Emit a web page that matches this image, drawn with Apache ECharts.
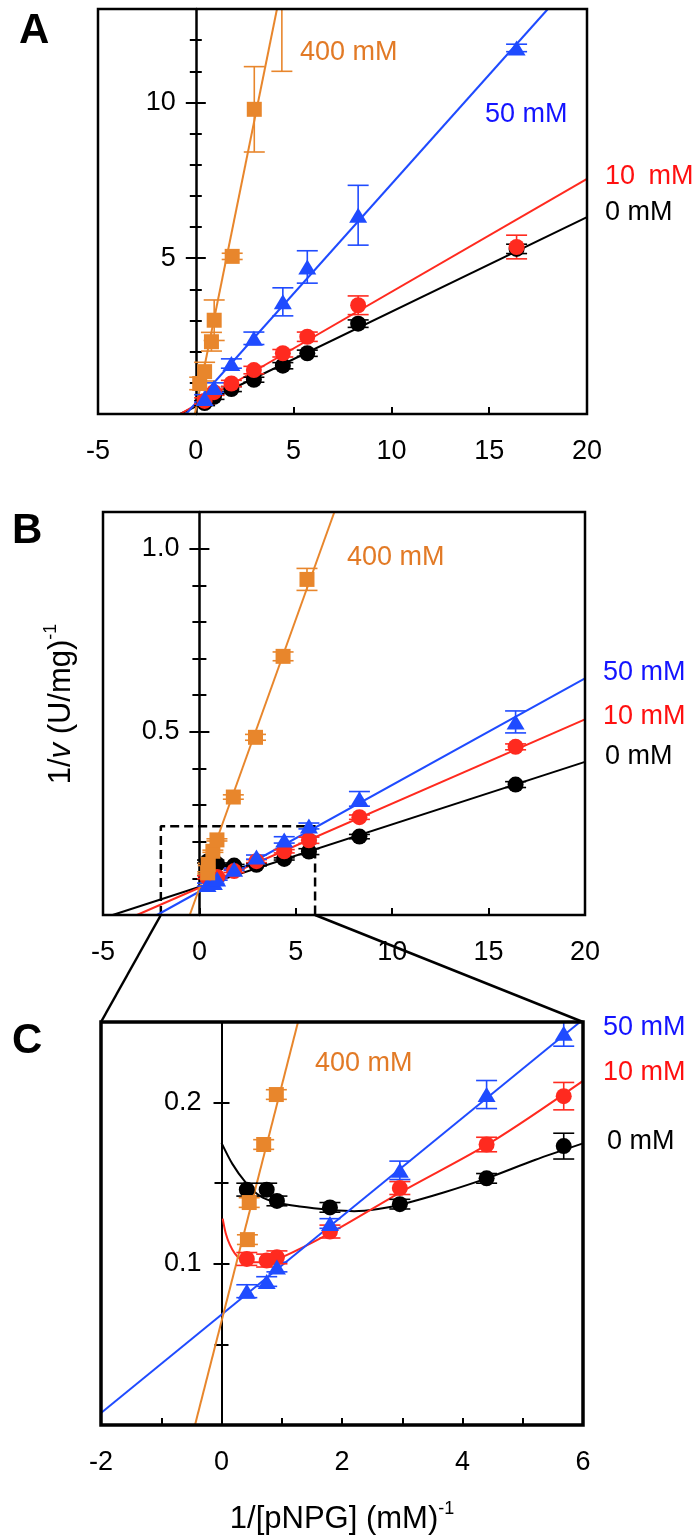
<!DOCTYPE html>
<html><head><meta charset="utf-8">
<script src="https://cdn.jsdelivr.net/npm/echarts@6/dist/echarts.min.js"></script>
<style>html,body{margin:0;padding:0;background:#fff}#c{width:693px;height:1538px}</style>
</head><body><div id="c"></div><script>
const FONT = '"Liberation Sans", Arial, Helvetica, sans-serif';
const COL = {black:'#000000', red:'#ff2a1f', blue:'#1f4bff', orange:'#e8862c'};
const TXT = {black:'#000000', red:'#ff1010', blue:'#1414ff', orange:'#e27a26'};

// ---------- Panel A ----------
const xA = [0.45, 0.93, 1.82, 2.97, 4.45, 5.7, 8.3, 16.4];
const blackA = [0.35, 0.55, 0.8, 1.1, 1.55, 1.95, 2.9, 5.3];
const blackAErr = [0.08, 0.08, 0.08, 0.08, 0.1, 0.1, 0.12, 0.15];
const redA = [0.42, 0.7, 0.98, 1.41, 1.95, 2.48, 3.49, 5.36];
const redAErr = [0.1, 0.1, 0.1, 0.12, 0.12, 0.15, 0.3, 0.38];
const blueA = [0.5, 0.85, 1.62, 2.43, 3.6, 4.72, 6.38, 11.75];
const blueAErr = [0.12, 0.15, 0.15, 0.2, 0.45, 0.52, 0.96, 0.12];
const orangeXA = [0.2, 0.45, 0.8, 0.94, 1.86, 2.99, 4.4];
const orangeA = [0.98, 1.36, 2.32, 3.01, 5.06, 9.78, 14.5];
const orangeAErr = [0.2, 0.3, 0.3, 0.65, 0.1, 1.37, 3.5];
const blackFitA = [[-0.8, 0], [20, 6.32]];
const redFitA = [[-0.8, 0], [20, 7.55]];
const blueFitA = [[-0.5, 0], [18.0, 13.0]];
const orangeFitA = [[-0.05, 0], [4.15, 13.0]];

// ---------- Panels B and C (same measurements) ----------
const xBC = [0.42, 0.75, 0.92, 1.8, 2.96, 4.4, 5.68, 8.3, 16.4];
const blackBC = [0.146, 0.146, 0.139, 0.135, 0.137, 0.153, 0.173, 0.214, 0.356];
const blackBCErr = [0.004, 0.004, 0.003, 0.003, 0.003, 0.003, 0.008, 0.006, 0.008];
const redBC = [0.103, 0.102, 0.104, 0.120, 0.147, 0.174, 0.204, 0.267, 0.459];
const redBCErr = [0.004, 0.004, 0.004, 0.004, 0.004, 0.0045, 0.0085, 0.006, 0.008];
const blueBC = [0.083, 0.089, 0.098, 0.125, 0.158, 0.205, 0.243, 0.317, 0.527];
const blueBCErr = [0.004, 0.003, 0.003, 0.003, 0.0057, 0.0087, 0.008, 0.02, 0.03];
const orangeXBC = [0.43, 0.46, 0.70, 0.91, 1.76, 2.91, 4.34, 5.58];
const orangeBC = [0.115, 0.138, 0.174, 0.205, 0.322, 0.485, 0.706, 0.916];
const orangeBCErr = [0.003, 0.003, 0.003, 0.003, 0.006, 0.008, 0.012, 0.03];
const blackFitB = [[-4.5, 0], [20, 0.418]];
const redFitB = [[-3.24, 0], [20, 0.534]];
const blueFitB = [[-2.2, 0], [20, 0.646]];
const orangeFitB = [[-0.5, 0], [7.0, 1.1]];
const zoomBox = [[-2, 0], [-2, 0.242], [6, 0.242], [6, 0]];
const blueFitC = [[-2, 0.0075], [5.95, 0.25]];
const orangeFitC = [[-0.44, 0], [1.27, 0.25]];
const redCurveX = [0.02, 0.07, 0.14, 0.22, 0.31, 0.45, 0.7, 1.0, 1.8, 3.0, 4.5, 6.0];
const redCurveY = [0.128, 0.119, 0.1117, 0.1065, 0.103, 0.101, 0.101, 0.104, 0.119, 0.145, 0.176, 0.2135];
const blackCurveX = [0.0, 0.18, 0.4, 0.63, 0.91, 1.3, 1.8, 2.2, 2.6, 3.0, 3.7, 4.4, 5.2, 6.0];
const blackCurveY = [0.175, 0.162, 0.1505, 0.1423, 0.138, 0.1355, 0.1335, 0.1326, 0.134, 0.137, 0.1444, 0.153, 0.1644, 0.1747];

// ---------- tick labels ----------
const xTicksAB = [-5, 0, 5, 10, 15, 20];
const xTicksC = [-2, 0, 2, 4, 6];
const yLabelsA = [5, 10];
const yLabelsB = [0.5, 1.0];
const yLabelsC = [0.1, 0.2];

const zip = (xs, ys) => xs.map((x, i) => [x, ys[i]]);
const zip3 = (xs, ys, es) => xs.map((x, i) => [x, ys[i], es[i]]);
const near = (v, arr) => arr.some(a => Math.abs(a - v) < 1e-9);

const grids = [
  {left: 98, top: 9, width: 489, height: 405},
  {left: 103, top: 512, width: 482, height: 403},
  {left: 101, top: 1022, width: 482, height: 403}
];
const gridBorder = [2.5, 2.5, 3.5];
const yLineW = [2.5, 2.5, 2];
const LABEL_SIZE = 27;

const xAxis = [], yAxis = [];
function addXAxis(gi, min, max, interval, labels, tickLen) {
  xAxis.push({type: 'value', gridIndex: gi, min, max, interval, position: 'bottom',
    axisLine: {show: false, onZero: false},
    axisTick: {show: true, inside: true, length: tickLen, lineStyle: {color: '#000', width: 2}},
    axisLabel: {show: true, margin: 24, color: '#000', fontSize: LABEL_SIZE, fontFamily: FONT,
      showMinLabel: true, showMaxLabel: true, hideOverlap: false,
      formatter: v => near(v, labels) ? String(Math.round(v)) : ''},
    splitLine: {show: false}});
}
// y axes drawn at x = 0: shift them from the grid edge by the width share left of zero
function addYAxes(gi, xmin, xmax, min, max, major, minor, majLen, minLen, lineW, labels, fmt) {
  const w = grids[gi].width;
  const w0 = w * (0 - xmin) / (xmax - xmin);
  const tick = (len) => ({show: true, length: len, lineStyle: {color: '#000', width: 2}});
  const c = {type: 'value', gridIndex: gi, min, max, splitLine: {show: false}};
  yAxis.push(Object.assign({}, c, {interval: major, position: 'left', offset: -w0,
    axisLine: {show: true, onZero: false, lineStyle: {color: '#000', width: lineW}},
    axisTick: tick(majLen),
    axisLabel: {show: true, margin: 20, color: '#000', fontSize: LABEL_SIZE, fontFamily: FONT,
      showMinLabel: false, showMaxLabel: false, hideOverlap: false,
      formatter: v => near(v, labels) ? fmt(v) : ''}}));
  yAxis.push(Object.assign({}, c, {interval: major, position: 'right', offset: -(w - w0),
    axisLine: {show: false, onZero: false}, axisTick: tick(majLen), axisLabel: {show: false}}));
  yAxis.push(Object.assign({}, c, {interval: minor, position: 'left', offset: -w0,
    axisLine: {show: false, onZero: false}, axisTick: tick(minLen), axisLabel: {show: false}}));
  yAxis.push(Object.assign({}, c, {interval: minor, position: 'right', offset: -(w - w0),
    axisLine: {show: false, onZero: false}, axisTick: tick(minLen), axisLabel: {show: false}}));
}
addXAxis(0, -5, 20, 5, xTicksAB, 7);
addXAxis(1, -5, 20, 5, xTicksAB, 7);
addXAxis(2, -2, 6, 1, xTicksC, 7);
addYAxes(0, -5, 20, 0, 13, 5, 1, 10, 6, yLineW[0], yLabelsA, v => String(v));
addYAxes(1, -5, 20, 0, 1.1, 0.5, 0.1, 10, 7, yLineW[1], yLabelsB, v => v.toFixed(1));
addYAxes(2, -2, 6, 0, 0.25, 0.1, 0.05, 8, 7, yLineW[2], yLabelsC, v => v.toFixed(1));

function errRender(params, api) {
  const x = api.value(0), y = api.value(1), e = api.value(2);
  const cs = params.coordSys;
  const px = api.coord([x, y])[0];
  const top = api.coord([x, y + e])[1], bot = api.coord([x, y - e])[1];
  const y0 = cs.y, y1 = cs.y + cs.height;
  const color = api.visual('color');
  const st = {stroke: color, lineWidth: 1.6};
  const w = 10.5;
  const ch = [];
  const t = Math.max(top, y0), b = Math.min(bot, y1);
  if (t < b) ch.push({type: 'line', shape: {x1: px, y1: t, x2: px, y2: b}, style: st});
  if (top >= y0 && top <= y1) ch.push({type: 'line', shape: {x1: px - w, y1: top, x2: px + w, y2: top}, style: st});
  if (bot >= y0 && bot <= y1) ch.push({type: 'line', shape: {x1: px - w, y1: bot, x2: px + w, y2: bot}, style: st});
  return {type: 'group', children: ch};
}

const series = [];
function line(p, data, color, opts) {
  series.push(Object.assign({type: 'line', xAxisIndex: p, yAxisIndex: 4 * p, data,
    showSymbol: false, symbol: 'none', clip: true, silent: true, z: 2,
    lineStyle: {color, width: 2}, itemStyle: {color}}, opts || {}));
}
function points(p, xs, ys, es, color, symbol, size) {
  series.push({type: 'custom', xAxisIndex: p, yAxisIndex: 4 * p, renderItem: errRender,
    data: zip3(xs, ys, es), encode: {x: 0, y: 1}, itemStyle: {color}, z: 3, silent: true, clip: true});
  series.push({type: 'scatter', xAxisIndex: p, yAxisIndex: 4 * p, data: zip(xs, ys),
    symbol, symbolSize: size, itemStyle: {color, opacity: 1}, z: 4, clip: true, silent: true});
}
const SYM = {black: ['circle', 16], red: ['circle', 16], blue: ['triangle', [18, 15]], orange: ['rect', 15]};

// Panel A
line(0, blackFitA, COL.black); line(0, redFitA, COL.red); line(0, blueFitA, COL.blue); line(0, orangeFitA, COL.orange);
points(0, xA, blackA, blackAErr, COL.black, ...SYM.black);
points(0, xA, redA, redAErr, COL.red, ...SYM.red);
points(0, xA, blueA, blueAErr, COL.blue, ...SYM.blue);
points(0, orangeXA, orangeA, orangeAErr, COL.orange, ...SYM.orange);
// Panel B
line(1, zoomBox, '#000', {z: 1, lineStyle: {color: '#000', width: 2.5, type: [9, 5]}});
line(1, blackFitB, COL.black); line(1, redFitB, COL.red); line(1, blueFitB, COL.blue); line(1, orangeFitB, COL.orange);
points(1, xBC, blackBC, blackBCErr, COL.black, ...SYM.black);
points(1, xBC, redBC, redBCErr, COL.red, ...SYM.red);
points(1, xBC, blueBC, blueBCErr, COL.blue, ...SYM.blue);
points(1, orangeXBC, orangeBC, orangeBCErr, COL.orange, ...SYM.orange);
// Panel C
line(2, zip(blackCurveX, blackCurveY), COL.black, {smooth: 0.3});
line(2, zip(redCurveX, redCurveY), COL.red, {smooth: 0.3});
line(2, blueFitC, COL.blue); line(2, orangeFitC, COL.orange);
points(2, xBC, blackBC, blackBCErr, COL.black, ...SYM.black);
points(2, xBC, redBC, redBCErr, COL.red, ...SYM.red);
points(2, xBC, blueBC, blueBCErr, COL.blue, ...SYM.blue);
points(2, orangeXBC, orangeBC, orangeBCErr, COL.orange, ...SYM.orange);

const chart = echarts.init(document.getElementById('c'), null, {renderer: 'canvas'});
chart.setOption({
  animation: false,
  backgroundColor: '#fff',
  grid: grids.map((g, i) => Object.assign({show: true, borderColor: '#000', borderWidth: gridBorder[i],
    backgroundColor: 'transparent', containLabel: false, outerBoundsMode: 'none', z: 5}, g)),
  xAxis, yAxis, series
});

function txt(id, x, y, text, color, size, extra) {
  return {type: 'text', id, x, y, z: 100, silent: true,
    style: Object.assign({text, fill: color, fontSize: size, fontFamily: FONT, align: 'left', verticalAlign: 'middle'}, extra || {})};
}
const conv = (p, v) => chart.convertToPixel({xAxisIndex: p, yAxisIndex: 4 * p}, v);
const bl = conv(1, [zoomBox[0][0], 0]), br = conv(1, [zoomBox[3][0], 0]);
const ctl = conv(2, [-2, 0.25]), ctr = conv(2, [6, 0.25]);
const rich = {
  a: {fontSize: 31, fontFamily: FONT, fill: '#000', lineHeight: 38},
  i: {fontSize: 31, fontFamily: FONT, fontStyle: 'italic', fill: '#000', lineHeight: 38},
  s: {fontSize: 18, fontFamily: FONT, fill: '#000', verticalAlign: 'top'}
};
const SL = 27;
chart.setOption({graphic: [
  txt('la', 19, 31, 'A', '#000', 42, {fontWeight: 'bold'}),
  txt('lb', 12, 531, 'B', '#000', 42, {fontWeight: 'bold'}),
  txt('lc', 12, 1041, 'C', '#000', 42, {fontWeight: 'bold'}),
  txt('a400', 300, 53, '400 mM', TXT.orange, SL),
  txt('a50', 485, 115, '50 mM', TXT.blue, SL),
  txt('a10', 605, 177, '10\u2002mM', TXT.red, SL),
  txt('a0', 605, 213, '0 mM', TXT.black, SL),
  txt('b400', 347, 558, '400 mM', TXT.orange, SL),
  txt('b50', 603, 673, '50 mM', TXT.blue, SL),
  txt('b10', 603, 717, '10 mM', TXT.red, SL),
  txt('b0', 605, 757, '0 mM', TXT.black, SL),
  txt('c400', 315, 1064, '400 mM', TXT.orange, SL),
  txt('c50', 603, 1028, '50 mM', TXT.blue, SL),
  txt('c10', 603, 1073, '10 mM', TXT.red, SL),
  txt('c0', 607, 1142, '0 mM', TXT.black, SL),
  {type: 'text', id: 'ytitle', x: 61, y: 704, rotation: Math.PI / 2, z: 100, silent: true,
    style: {text: '{a|1/}{i|v}{a| (U/mg)}{s|-1}', rich, align: 'center', verticalAlign: 'middle'}},
  {type: 'text', id: 'xtitle', x: 342, y: 1519, z: 100, silent: true,
    style: {text: '{a|1/[pNPG] (mM)}{s|-1}', rich, align: 'center', verticalAlign: 'middle'}},
  {type: 'line', id: 'conL', z: 50, silent: true, shape: {x1: bl[0], y1: bl[1], x2: ctl[0], y2: ctl[1]},
    style: {stroke: '#000', lineWidth: 2.5}},
  {type: 'line', id: 'conR', z: 50, silent: true, shape: {x1: br[0], y1: br[1], x2: ctr[0], y2: ctr[1]},
    style: {stroke: '#000', lineWidth: 2.5}}
]});
</script></body></html>
